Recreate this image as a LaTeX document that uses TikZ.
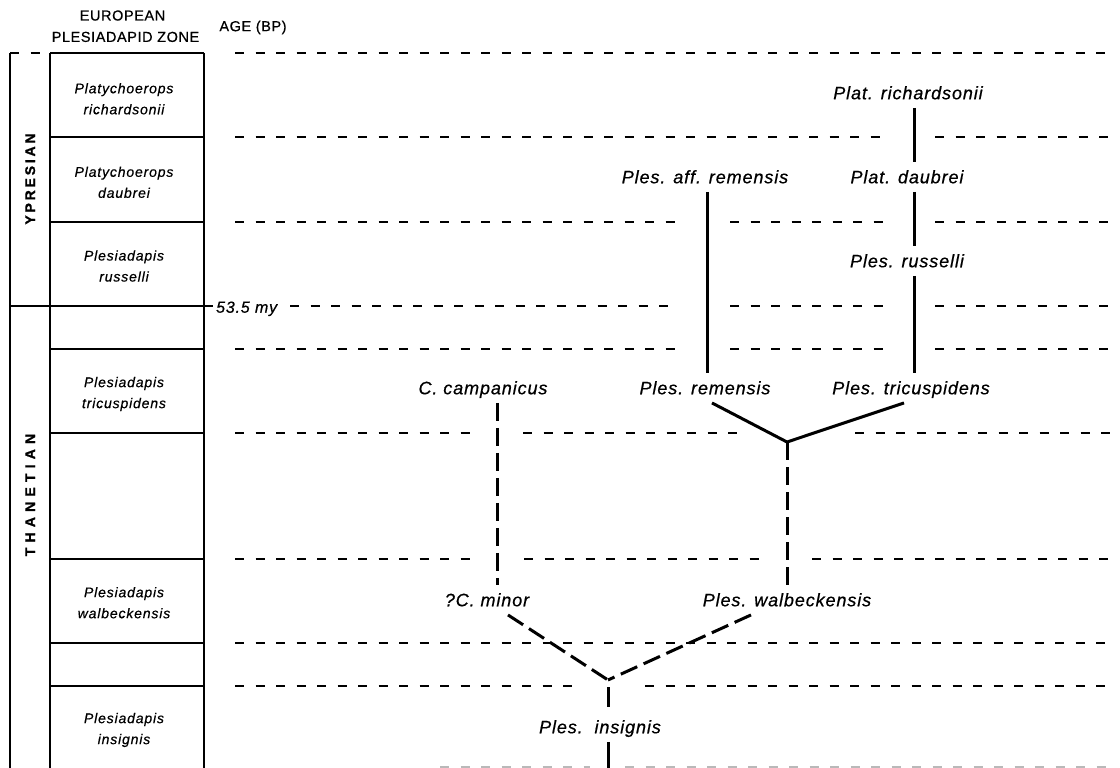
\documentclass[tikz,border=0pt]{standalone}
\usepackage{fontspec}
\setmainfont{Liberation Sans}
\newfontfamily\taxonfont[LetterSpace=5, FakeBold=0.6]{Liberation Sans}
\newfontfamily\zonefont[LetterSpace=6, FakeBold=0.5]{Liberation Sans}
\newfontfamily\headfont[LetterSpace=4, FakeBold=0.6]{Liberation Sans}
\newfontfamily\stagefontA[LetterSpace=20, FakeBold=1.2]{Liberation Sans}
\newfontfamily\stagefontB[LetterSpace=37, FakeBold=1.2]{Liberation Sans}
\begin{document}
\begin{tikzpicture}[x=1pt,y=-1pt,
  frame/.style={line width=1.4pt},
  timeline/.style={line width=1.2pt, dash pattern=on 9pt off 11.5pt},
  lineage/.style={line width=3pt},
  uncertain/.style={line width=3pt, dash pattern=on 18pt off 7pt},
  taxon/.style={font=\taxonfont\itshape\fontsize{18}{20}\selectfont,
    text height=12.5pt, text depth=0pt, inner xsep=1pt, inner ysep=8.5pt},
  agelabel/.style={font=\taxonfont\itshape\fontsize{16}{18}\selectfont,
    text height=11.4pt, text depth=0pt, inner sep=0pt},
  zone/.style={font=\zonefont\itshape\fontsize{14}{21}\selectfont,
    align=center, inner sep=0pt},
  head/.style={font=\headfont\fontsize{14.5}{16}\selectfont,
    text height=10.4pt, text depth=0pt, inner sep=0pt},
  stage/.style={rotate=90, inner sep=0pt, text height=10pt, text depth=0pt}]
\useasboundingbox (0,0) rectangle (1120,768);

% column headings
\node[head] (hEu) at (122.5,15.3) {EUROPEAN};
\node[head] (hZone) at (125.5,36.7) {PLESIADAPID ZONE};
\node[head] (hAge) at (253,26) {AGE (BP)};

% stage and zone columns
\draw[timeline] (10,53) -- (50,53);
\draw[frame] (10,53) -- (10,768);
\draw[frame] (50,53) -- (50,768);
\draw[frame] (204,53) -- (204,768);
\draw[frame] (50,53) -- (204,53);
\foreach \y in {137,222,349,433,559,643,686}
  \draw[frame] (50,\y) -- (204,\y);
\draw[frame] (10,306) -- (213,306);

\node[stage, font=\stagefontA\bfseries\fontsize{14}{16}\selectfont] (sYpr) at (30,179) {YPRESIAN};
\node[stage, font=\stagefontB\bfseries\fontsize{14}{16}\selectfont] (sTha) at (30,495) {THANETIAN};

\node[zone] (zRich) at (124,98.75) {Platychoerops\\richardsonii};
\node[zone] (zDaub) at (124,182.3) {Platychoerops\\daubrei};
\node[zone] (zRuss) at (124,266) {Plesiadapis\\russelli};
\node[zone] (zTric) at (124,394) {Plesiadapis\\tricuspidens};
\node[zone] (zWalb) at (124,602.7) {Plesiadapis\\walbeckensis};
\node[zone] (zInsi) at (124,730) {Plesiadapis\\insignis};

\node[agelabel, anchor=west] (age) at (216,307) {53.5 my};

% time lines across the chart
\foreach \y/\a/\b in {53/235/1112, 137/235/883, 137/935/1112,
    222/235/677, 222/730/883, 222/935/1112,
    306/290/677, 306/730/883, 306/935/1112,
    349/235/677, 349/730/883, 349/935/1112,
    433/235/470, 433/523/737, 433/855/1112,
    559/235/472, 559/524/760, 559/812/1112,
    643/235/1112, 686/235/575, 686/645/1112}
  \draw[timeline] (\a,\y) -- (\b,\y);
\draw[timeline, gray!55] (440,767) -- (590,767);
\draw[timeline, gray!55] (625,767) -- (1112,767);

% taxa
\node[taxon] (rich) at (908,93) {Plat. richardsonii};
\node[taxon] (daub) at (907,177) {Plat. daubrei};
\node[taxon] (russ) at (907,261) {Ples. russelli};
\node[taxon] (tric) at (911,388) {Ples. tricuspidens};
\node[taxon] (affrem) at (705,177) {Ples. aff. remensis};
\node[taxon] (rem) at (705,388) {Ples. remensis};
\node[taxon] (camp) at (483,388) {C. campanicus};
\node[taxon] (minor) at (487,600) {?C. minor};
\node[taxon] (walb) at (787,600) {Ples. walbeckensis};
\node[taxon] (insig) at (600,727) {Ples.\ \ insignis};

\coordinate (vA) at (914,0);
\coordinate (vB) at (707,0);
\coordinate (vC) at (497,0);
\coordinate (Y1) at (787,442);
\coordinate (Y2) at (608,680);
\coordinate (bot) at (608,768);

% lineages
\draw[lineage] (rich.south -| vA) -- (daub.north -| vA);
\draw[lineage] (daub.south -| vA) -- (russ.north -| vA);
\draw[lineage] (russ.south -| vA) -- (tric.north -| vA);
\draw[lineage] (affrem.south -| vB) -- (rem.north -| vB);
\draw[lineage] ([xshift=7pt]rem.south) -- (Y1) -- ([xshift=-7pt]tric.south);
\draw[uncertain] (Y1) -- (Y1 |- walb.north);
\draw[uncertain] (camp.south -| vC) -- (minor.north -| vC);
\draw[uncertain] ([xshift=21pt]minor.south) -- (Y2);
\draw[uncertain] ([xshift=-36pt]walb.south) -- (Y2);
\draw[lineage, shorten <=7pt, shorten >=5pt] (Y2) -- (insig.north -| Y2);
\draw[lineage] (insig.south -| Y2) -- (bot);
\end{tikzpicture}
\end{document}
